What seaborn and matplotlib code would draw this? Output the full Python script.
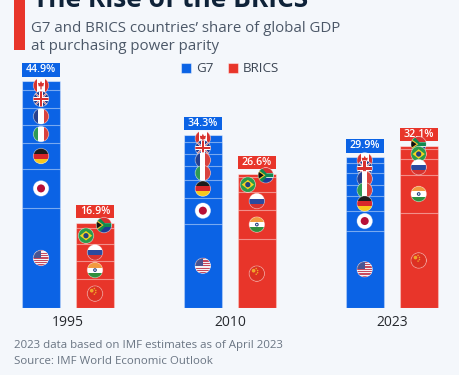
import numpy as np
import pandas as pd
import matplotlib
matplotlib.use('Agg')
import matplotlib.pyplot as plt
from matplotlib.patches import Circle, Polygon, Rectangle
import seaborn as sns

years = ['1995', '2010', '2023']
blocs = ['G7', 'BRICS']
g7_countries = ['Canada', 'UK', 'France', 'Italy', 'Germany', 'Japan', 'USA']
brics_countries = ['South Africa', 'Brazil', 'Russia', 'India', 'China']

# shares in % of global GDP, listed from the top of each stack downwards
g7_1995 = [1.8, 3.5, 3.4, 3.6, 5.1, 7.7, 19.8]
g7_2010 = [1.5, 2.3, 2.5, 2.6, 3.6, 5.1, 16.7]
g7_2023 = [1.2, 1.9, 2.3, 2.2, 3.1, 3.8, 15.3]
brics_1995 = [1.0, 3.2, 3.4, 3.6, 5.7]
brics_2010 = [0.7, 3.0, 3.5, 5.8, 13.6]
brics_2023 = [0.6, 2.1, 3.1, 7.5, 18.8]

g7_totals = [44.9, 34.3, 29.9]
brics_totals = [16.9, 26.6, 32.1]

BG = '#F4F7FB'
BLUE = '#0B63E5'
RED = '#E8352A'
FONT = 'Open Sans'

# offsets of the two small BRICS flags, in px, per year
flag_dx = {('South Africa', '1995'): 9, ('Brazil', '1995'): -9,
           ('South Africa', '2010'): 9, ('Brazil', '2010'): -9,
           ('South Africa', '2023'): 0, ('Brazil', '2023'): 0}
flag_dy = {('South Africa', '2023'): -3}

rows = []
for year, vals in zip(years, [g7_1995, g7_2010, g7_2023]):
    for rank, (c, v) in enumerate(zip(g7_countries, vals)):
        rows.append((year, 'G7', c, rank, v))
for year, vals in zip(years, [brics_1995, brics_2010, brics_2023]):
    for rank, (c, v) in enumerate(zip(brics_countries, vals)):
        rows.append((year, 'BRICS', c, rank, v))
df = pd.DataFrame(rows, columns=['year', 'bloc', 'country', 'rank', 'share'])
df = df.sort_values(['year', 'bloc', 'rank'], ascending=[True, True, False])
df['top'] = df.groupby(['year', 'bloc'])['share'].cumsum()
df['mid'] = df['top'] - df['share'] / 2

sns.set_theme(style='white')
plt.rcParams['font.family'] = [FONT, 'DejaVu Sans']

fig = plt.figure(figsize=(4.6, 3.75), dpi=100, facecolor=BG)
ax = fig.add_axes([10 / 460, (375 - 308) / 375, 440 / 460, 248 / 375])
ax.set_facecolor('none')

WIDTH = 0.667
GAP = 0.29
for rank in range(7):
    part = df[df['rank'] == rank]
    sns.barplot(data=part, x='year', y='top', hue='bloc', order=years, hue_order=blocs,
                palette=[BLUE, RED], width=WIDTH, gap=GAP, dodge=True, saturation=1,
                errorbar=None, ax=ax, edgecolor=(1, 1, 1, 0.45), linewidth=0.8,
                legend=(rank == 0))

ax.set_xlim((10 - 68) / 161.85, (450 - 68) / 161.85)
ax.set_ylim(0, 248 / 5.056)
ax.set_xlabel('')
ax.set_ylabel('')
ax.set_yticks([])
ax.tick_params(axis='x', length=0, pad=5, labelsize=10, labelcolor='#26292E')
sns.despine(ax=ax, left=True, bottom=True)

sns.move_legend(ax, 'center', bbox_to_anchor=((230 - 10) / 440, (375 - 69 - 67) / 248), ncol=2,
                title=None, frameon=False, fontsize=9.6, handlelength=0.75, handleheight=0.75,
                handletextpad=0.42, columnspacing=1.05, labelcolor='#3C4654')

# overlay in pixel units for the flags, value boxes and header
ovr = fig.add_axes([0, 0, 1, 1], zorder=5)
ovr.set_xlim(0, 460)
ovr.set_ylim(375, 0)
ovr.axis('off')


def to_px(x, y):
    px, py = ax.transData.transform((x, y))
    return px, 375 - py


def draw_flag(name, cx, cy, r=7.7):
    clip = Circle((cx, cy), r, fc='white', ec='none')
    ovr.add_patch(clip)

    def poly(pts, color):
        p = Polygon([(cx + a * r, cy + b * r) for a, b in pts], closed=True, fc=color, ec='none')
        ovr.add_patch(p)
        p.set_clip_path(clip)

    def band(x0, x1, y0, y1, color):
        poly([(x0, y0), (x1, y0), (x1, y1), (x0, y1)], color)

    def disc(a, b, rad, color):
        p = Circle((cx + a * r, cy + b * r), rad * r, fc=color, ec='none')
        ovr.add_patch(p)
        p.set_clip_path(clip)

    if name == 'Canada':
        band(-1, -0.5, -1, 1, '#D8322E')
        band(0.5, 1, -1, 1, '#D8322E')
        poly([(0, -0.6), (0.15, -0.3), (0.4, -0.35), (0.3, 0.1), (0.08, 0.1), (0.08, 0.5),
              (-0.08, 0.5), (-0.08, 0.1), (-0.3, 0.1), (-0.4, -0.35), (-0.15, -0.3)], '#D8322E')
    elif name == 'UK':
        band(-1, 1, -1, 1, '#26408F')
        for s in (1, -1):
            poly([(-1, -s * 0.85), (-0.85, -s), (1, s * 0.85), (0.85, s)], 'white')
            poly([(-1, -s * 0.95), (-0.95, -s), (1, s * 0.95), (0.95, s)], '#D8322E')
        band(-1, 1, -0.3, 0.3, 'white')
        band(-0.3, 0.3, -1, 1, 'white')
        band(-1, 1, -0.17, 0.17, '#D8322E')
        band(-0.17, 0.17, -1, 1, '#D8322E')
    elif name == 'France':
        band(-1, -0.33, -1, 1, '#26408F')
        band(0.33, 1, -1, 1, '#D8423E')
    elif name == 'Italy':
        band(-1, -0.33, -1, 1, '#2E9A55')
        band(0.33, 1, -1, 1, '#D8423E')
    elif name == 'Germany':
        band(-1, 1, -1, -0.33, '#1C1C1C')
        band(-1, 1, -0.33, 0.33, '#D8262A')
        band(-1, 1, 0.33, 1, '#F7C81E')
    elif name == 'Japan':
        disc(0, 0, 0.52, '#B70F38')
    elif name == 'USA':
        band(-1, 1, -1, 1, '#F2F2F5')
        for k in np.arange(-1, 1, 2 / 6.5):
            band(-1, 1, k, k + 1 / 6.5, '#C64A5E')
        band(-1, 0.05, -1, 0.02, '#4A5591')
    elif name == 'South Africa':
        band(-1, 1, -1, 0, '#D6322F')
        band(-1, 1, 0, 1, '#1E3A94')
        band(-1, 1, -0.3, 0.3, 'white')
        poly([(-1, -1), (-0.6, -1), (0.1, -0.25), (1, -0.25), (1, 0.25), (0.1, 0.25),
              (-0.6, 1), (-1, 1)], '#12894F')
        poly([(-1, -0.7), (-0.05, 0), (-1, 0.7)], '#F4C430')
        poly([(-1, -0.5), (-0.28, 0), (-1, 0.5)], '#111111')
    elif name == 'Brazil':
        band(-1, 1, -1, 1, '#2A9A4A')
        poly([(-0.8, 0), (0, -0.62), (0.8, 0), (0, 0.62)], '#F5D423')
        disc(0, 0, 0.34, '#24417F')
    elif name == 'Russia':
        band(-1, 1, -0.33, 0.33, '#2A4A9F')
        band(-1, 1, 0.33, 1, '#D5322F')
    elif name == 'India':
        band(-1, 1, -1, -0.33, '#F29A3F')
        band(-1, 1, 0.33, 1, '#2F8F3E')
        disc(0, 0, 0.24, '#24417F')
        disc(0, 0, 0.1, 'white')
    elif name == 'China':
        band(-1, 1, -1, 1, '#DC3022')
        disc(-0.42, -0.38, 0.24, '#EFA52A')
        for a, b in [(-0.08, -0.66), (0.1, -0.4), (0.1, -0.12), (-0.08, 0.08)]:
            disc(a, b, 0.1, '#EFA52A')
    ring = Circle((cx, cy), r, fc='none', ec=(1, 1, 1, 0.3), lw=0.7)
    ovr.add_patch(ring)


half = WIDTH / 4 * (1 - GAP)
for b, (bloc, totals, color) in enumerate(zip(blocs, [g7_totals, brics_totals], [BLUE, RED])):
    shift = -WIDTH / 4 if b == 0 else WIDTH / 4
    for i, year in enumerate(years):
        x0, y0 = to_px(i + shift - half, totals[i])
        x1, _ = to_px(i + shift + half, totals[i])
        ovr.add_patch(Rectangle((x0, y0 - 17.7), x1 - x0, 13.4, fc=color, ec='none'))
        ovr.text((x0 + x1) / 2, y0 - 11, f'{totals[i]}%', color='white', fontsize=7.7,
                 fontweight='semibold', ha='center', va='center')
        part = df[(df['year'] == year) & (df['bloc'] == bloc)].sort_values('rank')
        for _, row in part.iterrows():
            cx, cy = to_px(i + shift, row['mid'])
            key = (row['country'], year)
            draw_flag(row['country'], cx + flag_dx.get(key, 0), cy + flag_dy.get(key, 0))

# header and footer
ovr.add_patch(Rectangle((14, 0), 10.7, 50, fc=RED, ec='none'))
ovr.text(33, 7, 'The Rise of the BRICS', fontsize=19, fontweight='bold', color='#0F2339',
         va='baseline', ha='left')
ovr.text(31, 31.5, 'G7 and BRICS countries’ share of global GDP', fontsize=10.8, color='#4C5868',
         va='baseline', ha='left')
ovr.text(31, 50, 'at purchasing power parity', fontsize=10.8, color='#4C5868',
         va='baseline', ha='left')
ovr.text(14, 348, '2023 data based on IMF estimates as of April 2023', fontsize=8.25, color='#6A7583',
         va='baseline', ha='left')
ovr.text(14, 364, 'Source: IMF World Economic Outlook', fontsize=8.25, color='#6A7583',
         va='baseline', ha='left')

fig.savefig('out.png', dpi=100, facecolor=BG)
